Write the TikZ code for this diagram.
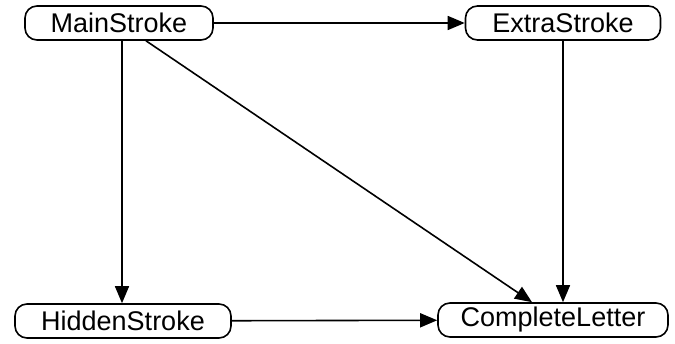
\documentclass[tikz,border=0pt]{standalone}
\usepackage{fontspec}
\setmainfont{Liberation Sans}
\usetikzlibrary{arrows.meta,calc}
\begin{document}
\begin{tikzpicture}[x=1pt,y=-1pt,
  box/.style={draw,line width=1.6pt,rounded corners=12pt,minimum height=34pt,inner sep=0pt,font=\fontsize{27}{27}\selectfont},
  conn/.style={line width=1.6pt,-{Triangle[length=17pt,width=14pt]}}]
\useasboundingbox (0,0) rectangle (675,344);
\node[box,minimum width=188pt] (m) at (119,23) {MainStroke};
\node[box,minimum width=195pt] (e) at (563,23) {ExtraStroke};
\node[box,minimum width=216pt] (h) at (123,321) {HiddenStroke};
\node[box,minimum width=230pt] (c) at (553,320) {CompleteLetter};
\draw[conn] (m) -- (e);
\draw[conn] ([xshift=3pt]m.south) -- ([xshift=3pt]m.south |- h.north);
\draw[conn] ([xshift=27pt]m.south) -- ([xshift=-21pt]c.north);
\draw[conn] (e.south) -- (e.south |- c.north);
\draw[conn] (h) -- (c);
\end{tikzpicture}
\end{document}
